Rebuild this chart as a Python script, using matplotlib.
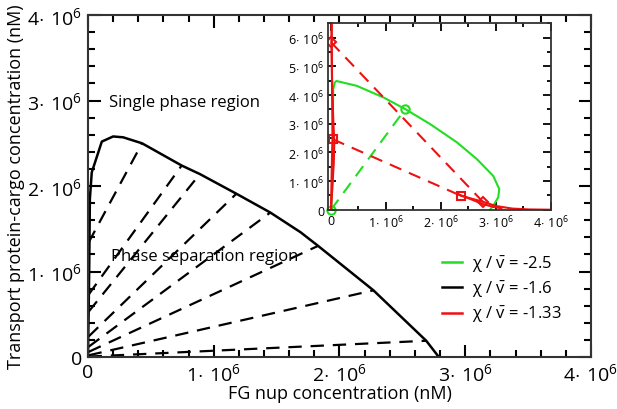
import numpy as np
import matplotlib.pyplot as plt
from matplotlib.ticker import MultipleLocator, FuncFormatter

plt.rcParams['font.family'] = ['Open Sans', 'DejaVu Sans']
plt.rcParams['mathtext.fontset'] = 'custom'
plt.rcParams['mathtext.rm'] = 'Open Sans'
plt.rcParams['mathtext.it'] = 'Open Sans:italic'

# main binodal, chi/v = -1.6 (units of 1e6 nM)
main_x = [0.0, 0.005, 0.01, 0.015, 0.03, 0.11, 0.2, 0.28, 0.43, 0.745, 0.89,
          1.18, 1.45, 1.69, 1.83, 2.27, 2.69, 2.79]
main_y = [0.0, 0.5, 1.07, 1.85, 2.16, 2.52, 2.58, 2.57, 2.50, 2.24, 2.14,
          1.91, 1.69, 1.46, 1.30, 0.78, 0.19, 0.0]

# tie lines: left end y, right end (x, y)
tie_left_y = [1.34, 0.73, 0.53, 0.24, 0.12, 0.06, 0.02, 0.005]
tie_right_x = [0.43, 0.745, 0.89, 1.18, 1.45, 1.83, 2.27, 2.69]
tie_right_y = [2.50, 2.24, 2.14, 1.91, 1.69, 1.30, 0.78, 0.19]

# inset: chi/v = -2.5
green_x = [0.0, 0.03, 0.03, 0.04, 0.07, 0.10, 0.47, 0.95, 1.35, 1.80, 2.29,
           2.65, 2.95, 3.06, 3.04, 2.95, 2.89]
green_y = [0.0, 1.0, 2.5, 4.2, 4.44, 4.49, 4.32, 3.92, 3.51, 2.99, 2.35,
           1.77, 1.18, 0.72, 0.43, 0.14, 0.0]
green_tie_x = [0.0, 1.35]
green_tie_y = [0.0, 3.51]

# inset: chi/v = -1.33
red_left_x = [0.0, 0.03, 0.05, 0.06, 0.04, 0.02, 0.01, 0.015]
red_left_y = [0.0, 1.0, 1.6, 2.35, 3.2, 4.5, 5.84, 6.6]
red_left2_x = [0.0, 0.01, 0.02, 0.03, 0.02, 0.01]
red_left2_y = [0.0, 1.0, 2.0, 2.46, 4.0, 6.6]
red_right_x = [2.30, 2.36, 2.76, 3.0, 3.3, 3.6, 4.0]
red_right_y = [0.55, 0.49, 0.28, 0.13, 0.04, 0.01, 0.0]
red_right2_x = [2.30, 2.5, 2.76, 2.95, 3.1]
red_right2_y = [0.55, 0.40, 0.20, 0.10, 0.05]
red_tie1_x = [0.0, 2.76]
red_tie1_y = [5.84, 0.28]
red_tie2_x = [0.03, 2.36]
red_tie2_y = [2.46, 0.49]

legend_labels = [r'χ / $\bar{\mathrm{v}}$ = -2.5',
                 r'χ / $\bar{\mathrm{v}}$ = -1.6',
                 r'χ / $\bar{\mathrm{v}}$ = -1.33']

green = '#22dd22'
red = '#ee1111'


def sci_fmt(v, pos):
    if abs(v) < 1e-9:
        return '0'
    return r'$%d\!\cdot\,10^{6}$' % round(v)


def style_axes(ax, major_len, minor_len, lw, minor_step):
    ax.xaxis.set_major_locator(MultipleLocator(1))
    ax.xaxis.set_minor_locator(MultipleLocator(minor_step))
    ax.yaxis.set_major_locator(MultipleLocator(1))
    ax.yaxis.set_minor_locator(MultipleLocator(minor_step))
    ax.tick_params(which='both', direction='in', top=True, right=True, width=lw)
    ax.tick_params(which='major', length=major_len)
    ax.tick_params(which='minor', length=minor_len)
    ax.xaxis.set_major_formatter(FuncFormatter(sci_fmt))
    ax.yaxis.set_major_formatter(FuncFormatter(sci_fmt))
    for s in ax.spines.values():
        s.set_linewidth(lw)
        s.set_color('#333333')


fig = plt.figure(figsize=(6.17, 4.10), dpi=100)
ax = fig.add_axes([0.1426, 0.1268, 0.8152, 0.834])

ax.plot(main_x, main_y, color='black', lw=1.8)
for ly, rx, ry in zip(tie_left_y, tie_right_x, tie_right_y):
    ax.plot([0.005, rx], [ly, ry], color='black', lw=1.6, dashes=(6, 4))

ax.set_xlim(0, 4)
ax.set_ylim(0, 4)
style_axes(ax, 9, 5, 1.5, 0.2)
ax.tick_params(labelsize=14, pad=4)
ax.set_xlabel('FG nup concentration (nM)', fontsize=13, labelpad=0)
ax.set_ylabel('Transport protein-cargo concentration (nM)', fontsize=13, labelpad=2)

ax.text(0.17, 2.98, 'Single phase region', fontsize=12, va='center')
ax.text(0.18, 1.18, 'Phase separation region', fontsize=12, va='center')

# inset
ins = fig.add_axes([0.532, 0.486, 0.361, 0.4546])
ins.plot(green_x, green_y, color=green, lw=1.5)
ins.plot(green_tie_x, green_tie_y, color=green, lw=1.5, dashes=(6, 4))
ins.plot(green_tie_x, green_tie_y, 'o', color=green, mfc='none', ms=6, mew=1.5,
         clip_on=False)

ins.plot(red_left_x, red_left_y, color=red, lw=1.5)
ins.plot(red_left2_x, red_left2_y, color=red, lw=1.5)
ins.plot(red_right_x, red_right_y, color=red, lw=1.5)
ins.plot(red_right2_x, red_right2_y, color=red, lw=1.5)
ins.plot(red_tie1_x, red_tie1_y, color=red, lw=1.5, dashes=(6, 4))
ins.plot(red_tie1_x, red_tie1_y, 'D', color=red, mfc='none', ms=5, mew=1.5)
ins.plot(red_tie2_x, red_tie2_y, color=red, lw=1.5, dashes=(6, 4))
ins.plot(red_tie2_x, red_tie2_y, 's', color=red, mfc='none', ms=6, mew=1.5)

ins.set_xlim(-0.05, 4)
ins.set_ylim(0, 6.5)
style_axes(ins, 6, 3, 1.3, 0.5)
ins.tick_params(labelsize=9, pad=3)

handles = [plt.Line2D([], [], color=c, lw=1.8) for c in (green, 'black', red)]
ax.legend(handles, legend_labels, loc='upper left', bbox_to_anchor=(0.703, 0.302),
          frameon=False, fontsize=12, handlelength=1.2, handletextpad=0.6,
          labelspacing=0.3, borderpad=0, borderaxespad=0)

fig.savefig('out.png', dpi=100)
